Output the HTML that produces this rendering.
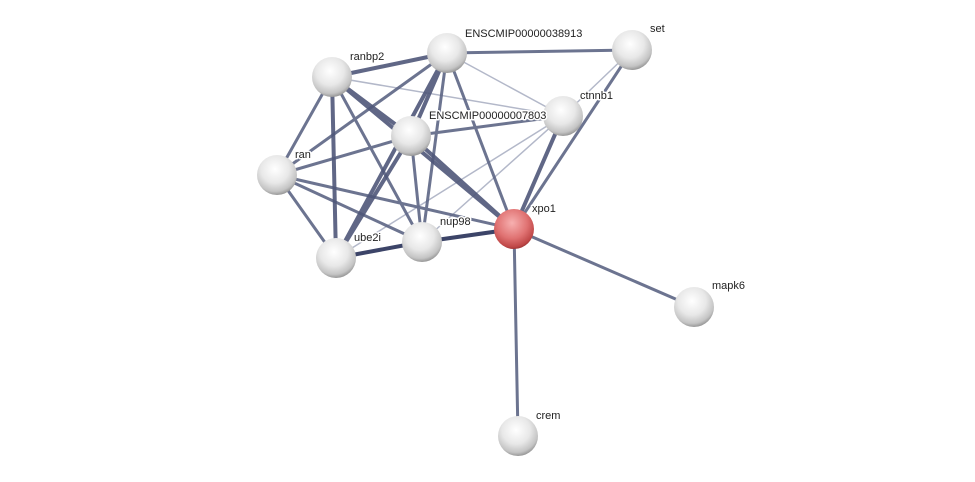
<!DOCTYPE html>
<html><head><style>body{margin:0;background:#fff}svg{display:block}text{font-family:"Liberation Sans",Arial,sans-serif;font-size:11px;fill:#222;stroke:#fff;stroke-width:3px;paint-order:stroke;stroke-linejoin:round}</style></head><body>
<svg width="975" height="482" viewBox="0 0 975 482">
<defs>
<radialGradient id="g" cx="0.45" cy="0.35" r="0.7"><stop offset="0" stop-color="#ffffff"/><stop offset="0.5" stop-color="#e8e8e8"/><stop offset="0.8" stop-color="#c4c4c4"/><stop offset="1" stop-color="#808080"/></radialGradient>
<radialGradient id="r" cx="0.45" cy="0.35" r="0.7"><stop offset="0" stop-color="#f7b0b0"/><stop offset="0.55" stop-color="#e07272"/><stop offset="0.85" stop-color="#c04848"/><stop offset="1" stop-color="#8a2a2a"/></radialGradient>
</defs>
<g stroke-linecap="round">
<g stroke="#b3b8c9" stroke-width="1.5">
<line x1="447" y1="53" x2="563" y2="116"/>
<line x1="332" y1="77" x2="563" y2="116"/>
<line x1="632" y1="50" x2="563" y2="116"/>
<line x1="563" y1="116" x2="336" y2="258"/>
<line x1="563" y1="116" x2="422" y2="242"/>
</g>
<g stroke="#5d6585" stroke-width="3" opacity="0.9">
<line x1="447" y1="53" x2="632" y2="50"/>
<line x1="447" y1="53" x2="277" y2="175"/>
<line x1="447" y1="53" x2="422" y2="242"/>
<line x1="447" y1="53" x2="514" y2="229"/>
<line x1="632" y1="50" x2="514" y2="229"/>
<line x1="332" y1="77" x2="277" y2="175"/>
<line x1="332" y1="77" x2="422" y2="242"/>
<line x1="411" y1="136" x2="563" y2="116"/>
<line x1="411" y1="136" x2="277" y2="175"/>
<line x1="411" y1="136" x2="422" y2="242"/>
<line x1="277" y1="175" x2="336" y2="258"/>
<line x1="277" y1="175" x2="422" y2="242"/>
<line x1="277" y1="175" x2="514" y2="229"/>
<line x1="514" y1="229" x2="694" y2="307"/>
<line x1="514" y1="229" x2="518" y2="436"/>
</g>
<g stroke="#4f5779" stroke-width="4" opacity="0.9">
<line x1="447" y1="53" x2="332" y2="77"/>
<line x1="447" y1="53" x2="336" y2="258"/>
<line x1="447" y1="53" x2="411" y2="136"/>
<line x1="332" y1="77" x2="336" y2="258"/>
<line x1="332" y1="77" x2="411" y2="136"/>
<line x1="332" y1="77" x2="514" y2="229"/>
<line x1="411" y1="136" x2="336" y2="258"/>
<line x1="411" y1="136" x2="514" y2="229"/>
<line x1="563" y1="116" x2="514" y2="229"/>
</g>
<g stroke="#3c4468" stroke-width="4">
<line x1="336" y1="258" x2="422" y2="242"/>
<line x1="422" y1="242" x2="514" y2="229"/>
</g>
</g>
<g>
<circle cx="447" cy="53" r="20" fill="url(#g)"/>
<circle cx="632" cy="50" r="20" fill="url(#g)"/>
<circle cx="332" cy="77" r="20" fill="url(#g)"/>
<circle cx="563" cy="116" r="20" fill="url(#g)"/>
<circle cx="411" cy="136" r="20" fill="url(#g)"/>
<circle cx="277" cy="175" r="20" fill="url(#g)"/>
<circle cx="422" cy="242" r="20" fill="url(#g)"/>
<circle cx="336" cy="258" r="20" fill="url(#g)"/>
<circle cx="514" cy="229" r="20" fill="url(#r)"/>
<circle cx="694" cy="307" r="20" fill="url(#g)"/>
<circle cx="518" cy="436" r="20" fill="url(#g)"/>
</g>
<g>
<text x="465" y="37">ENSCMIP00000038913</text>
<text x="650" y="32">set</text>
<text x="350" y="60">ranbp2</text>
<text x="580" y="99">ctnnb1</text>
<text x="429" y="119">ENSCMIP00000007803</text>
<text x="295" y="158">ran</text>
<text x="532" y="212">xpo1</text>
<text x="440" y="225">nup98</text>
<text x="354" y="241">ube2i</text>
<text x="712" y="289">mapk6</text>
<text x="536" y="419">crem</text>
</g>
</svg>
</body></html>
